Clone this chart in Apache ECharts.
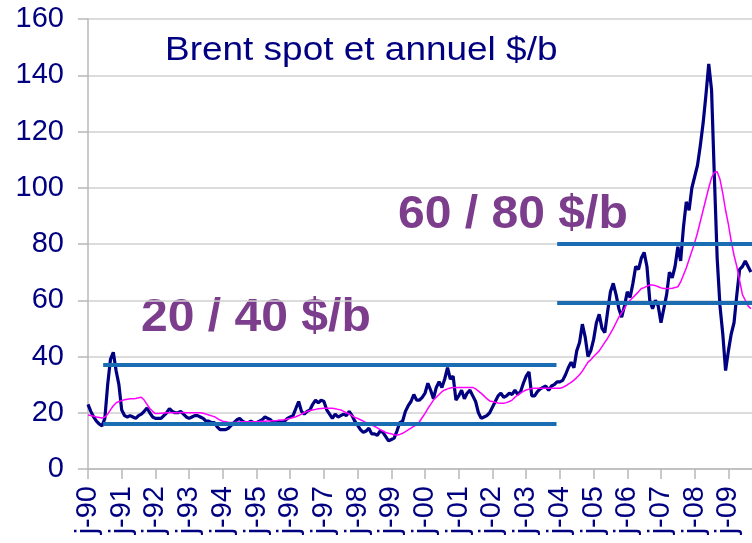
<!DOCTYPE html>
<html>
<head>
<meta charset="utf-8">
<script src="https://cdn.jsdelivr.net/npm/echarts@6/dist/echarts.min.js"></script>
<style>
  html, body { margin: 0; padding: 0; background: #fff; }
  #chart { width: 752px; height: 543px; }
</style>
</head>
<body>
<div id="chart"></div>
<script>
// one value per month, first one is Jan 1990
const firstYear = 1990;
const brentSpot = [
  23, 20.5, 18.5, 17, 16, 15.3, 18, 30, 39, 41.5, 35, 30,          // 1990
  21, 19, 18.5, 19, 18.5, 18, 19, 19.5, 20.5, 21.7, 20, 18.5,       // 1991
  18, 18, 18, 19, 20, 21.5, 20.5, 20, 20, 20.5, 19.5, 18.5,         // 1992
  18, 18.5, 19, 19, 18.5, 18, 17, 17, 16.5, 16.5, 15, 14,           // 1993
  14, 14, 14.5, 15.5, 16.5, 17.5, 18, 17, 16.5, 16.5, 17, 16.5,     // 1994
  16.5, 17, 17.5, 18.5, 18, 17.5, 16.5, 16.5, 17, 16.5, 17, 18,     // 1995
  18.5, 19, 21.5, 24, 20.5, 19.5, 20.5, 21, 23, 24.5, 23.5, 24.5,   // 1996
  24, 21, 19.5, 18, 19.5, 18.5, 19, 19.5, 19, 20.5, 19, 17,         // 1997
  15.5, 14, 13, 13.5, 14.5, 12.5, 12.5, 12, 13.5, 13, 11.5, 10,     // 1998
  10.5, 11, 13.5, 16.5, 17, 20.5, 22.5, 24, 26.5, 24.5, 24.5, 25.5, // 1999
  27, 30.5, 28, 25, 29, 31, 29, 32, 36, 32, 33, 24.5,               // 2000
  26, 28, 25, 27, 28, 26, 24, 20, 18, 18.5, 19, 20,                 // 2001
  22, 24, 26, 27, 25.5, 26, 27, 26.5, 28, 26.5, 27.5, 30.5,         // 2002
  33, 34.5, 26, 26, 27.5, 28.5, 29, 29.5, 28, 29.5, 30, 31,         // 2003
  31, 31.5, 33.5, 36, 38, 36, 42, 45, 51.5, 47, 40, 42,             // 2004
  46, 52, 55, 50, 48.5, 56, 63, 66, 62, 57, 54, 58,                 // 2005
  63, 61, 66, 72, 71, 75, 77, 72, 60, 57, 60, 58,                   // 2006
  52, 57, 62, 70, 68, 72, 79, 74, 86, 95, 92, 100,                  // 2007
  104, 108, 115, 123, 133, 144, 134.8, 104, 75, 58, 48, 35,         // 2008
  42, 48, 52, 62, 71, 72, 74, 72, 70                                // 2009
];
const brentAnnual = [
  19.2, 19, 18.8, 18.5, 18.3, 18.1, 18.5, 19.5, 21, 22.5, 23.5, 24,
  24.3, 24.6, 24.8, 25, 25, 25.1, 25.3, 25.5, 24.5, 23, 21.5, 20.5,
  19.7, 19.7, 19.8, 19.9, 20, 20, 20, 20, 20, 20.1, 20.1, 20,
  20, 20, 20, 20, 20, 19.8, 19.5, 19.2, 18.9, 18.6, 18, 17.4,
  17, 16.8, 16.6, 16.5, 16.5, 16.6, 16.7, 16.8, 16.8, 16.8, 16.8, 16.8,
  16.8, 16.9, 17, 17, 17.1, 17.1, 17.2, 17.2, 17.3, 17.4, 17.5, 17.8,
  18, 18.3, 18.6, 19, 19.5, 20, 20.5, 20.8, 21, 21.2, 21.4, 21.5,
  21.6, 21.6, 21.6, 21.6, 21.4, 21.2, 21, 20.5, 20, 19.5, 19, 18.3,
  18, 17.5, 17, 16.5, 16, 15.6, 15.2, 14.6, 14, 13.5, 13, 12.7,
  12.5, 12.2, 12.1, 12.3, 12.7, 13.3, 13.9, 14.5, 15.2, 15.8, 16.8, 18.3,
  19.8, 21.5, 23, 24.5, 25.5, 26.5, 27.5, 28.1, 28.5, 28.8, 29, 29,
  29, 29, 29, 29, 29, 29, 28.5, 27.7, 26.9, 26, 25, 24.2,
  24, 23.7, 23.5, 23.4, 23.4, 23.6, 24, 24.5, 25.5, 26.3, 27, 27.6,
  28.1, 28.4, 28.6, 28.7, 28.7, 28.7, 28.7, 28.7, 28.7, 28.7, 28.7, 28.7,
  28.7, 29, 29.5, 30.2, 30.8, 31.6, 32.5, 33.5, 34.8, 36.4, 38, 38.8,
  40, 41, 42, 43.5, 45, 46.5, 48.2, 50, 52, 54, 55.5, 57,
  58.9, 60, 61, 62, 63, 64.2, 64.5, 65, 65.4, 65.4, 65.2, 64.8,
  64.4, 64.2, 64.2, 64.2, 64.3, 64.5, 64.8, 66.5, 69, 71.5, 74.5, 77.5,
  80.5, 84, 88, 92, 96, 100, 103.5, 105.5, 105.7, 103, 98, 92,
  87, 81, 76, 72, 67, 62, 60, 58, 57
];
const xTickLabels = ['j-90', 'j-91', 'j-92', 'j-93', 'j-94', 'j-95', 'j-96', 'j-97', 'j-98', 'j-99',
  'j-00', 'j-01', 'j-02', 'j-03', 'j-04', 'j-05', 'j-06', 'j-07', 'j-08', 'j-09'];
// range lines: 20/40 period then 60/80 period
const bandLow = [16, 37];
const bandHigh = [59, 80];
const bandLowSpan = [1990.45, 2003.9];
const bandHighSpan = [2003.92, 2009.7];

const navy = '#000080';
const purple = '#7b3d8c';
const font = 'Liberation Sans, Arial, sans-serif';

function monthly(values) {
  return values.map((v, i) => [firstYear + i / 12, v]);
}
function bandSeries(values, span) {
  return values.map(v => ({
    type: 'line',
    symbol: 'none',
    silent: true,
    z: 5,
    lineStyle: { color: '#1b6db3', width: 4 },
    data: [[span[0], v], [span[1], v]]
  }));
}

let option = {
  animation: false,
  grid: { left: 88, right: 0, top: 19, bottom: 74, containLabel: false },
  xAxis: {
    type: 'value',
    min: 1990,
    max: 2009.7,
    interval: 1,
    axisLine: { show: true, lineStyle: { color: '#b8b8b8', width: 1.5 } },
    axisTick: { show: true, length: 10, lineStyle: { color: '#b8b8b8', width: 1.5 } },
    splitLine: { show: false },
    axisLabel: {
      rotate: 90,
      margin: 17,
      color: navy,
      fontFamily: font,
      fontSize: 29,
      showMaxLabel: false,
      formatter: v => Number.isInteger(v) ? xTickLabels[v - 1990] : ''
    }
  },
  yAxis: {
    type: 'value',
    min: 0,
    max: 160,
    interval: 20,
    axisLine: { show: true, lineStyle: { color: '#b8b8b8', width: 1.5 } },
    axisTick: { show: true, length: 10, lineStyle: { color: '#b8b8b8', width: 1.5 } },
    splitLine: { show: true, lineStyle: { color: '#d0d0d0', width: 1.5 } },
    axisLabel: { margin: 24, color: navy, fontFamily: font, fontSize: 29 }
  },
  graphic: [
    { type: 'text', x: 165, y: 51, scaleX: 1.12, style: { text: 'Brent spot et annuel $/b', fill: navy, font: '33px ' + font, textVerticalAlign: 'middle' } },
    { type: 'text', x: 398, y: 215, scaleX: 1.045, style: { text: '60 / 80 $/b', fill: purple, font: 'bold 46px ' + font, textVerticalAlign: 'middle' } },
    { type: 'text', x: 141, y: 318, scaleX: 1.045, style: { text: '20 / 40 $/b', fill: purple, font: 'bold 46px ' + font, textVerticalAlign: 'middle' } }
  ],
  series: [
    {
      name: 'Brent spot',
      type: 'line',
      symbol: 'none',
      z: 3,
      lineStyle: { color: navy, width: 3.2 },
      data: monthly(brentSpot)
    },
    {
      name: 'annuel',
      type: 'line',
      symbol: 'none',
      z: 4,
      lineStyle: { color: '#ff00ff', width: 1.5 },
      data: monthly(brentAnnual)
    }
  ].concat(bandSeries(bandLow, bandLowSpan), bandSeries(bandHigh, bandHighSpan))
};

let chart = echarts.init(document.getElementById('chart'));
chart.setOption(option);
</script>
</body>
</html>
